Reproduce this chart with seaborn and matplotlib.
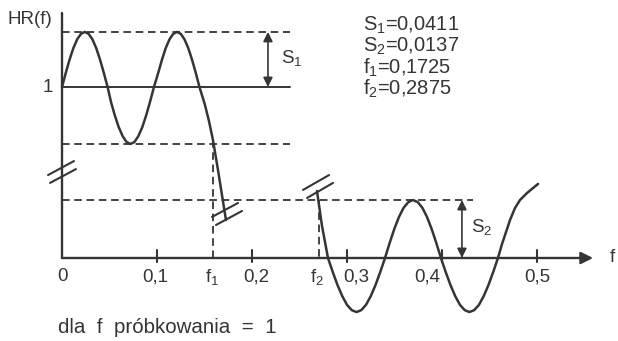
import matplotlib
matplotlib.use("Agg")
import matplotlib.pyplot as plt
import pandas as pd
import seaborn as sns

# ---------------- data (x: f, y: schematic HR(f), passband level "1" = 1.0) ----------------
pass_f = [0.000, 0.004, 0.008, 0.012, 0.016, 0.020, 0.024, 0.028, 0.032, 0.036, 0.040, 0.044, 0.048,
          0.0515, 0.0556, 0.0597, 0.0639, 0.0680, 0.0721, 0.0762, 0.0803, 0.0845, 0.0886, 0.0927, 0.0968,
          0.1013, 0.1053, 0.1092, 0.1132, 0.1171, 0.1211, 0.1250, 0.1289, 0.1329, 0.1368, 0.1408, 0.1447,
          0.1505, 0.1547, 0.1589, 0.1642, 0.1684, 0.1726]
pass_hr = [1.000, 1.083, 1.161, 1.228, 1.279, 1.311, 1.322, 1.311, 1.279, 1.228, 1.161, 1.083, 1.000,
           0.914, 0.834, 0.765, 0.712, 0.678, 0.667, 0.678, 0.712, 0.765, 0.834, 0.914, 1.000,
           1.083, 1.161, 1.228, 1.279, 1.311, 1.322, 1.311, 1.279, 1.228, 1.161, 1.083, 1.000,
           0.895, 0.801, 0.690, 0.515, 0.368, 0.222]

stop_f = [0.2684, 0.2737, 0.2800,
          0.2850, 0.2900, 0.2950, 0.3000, 0.3050, 0.3100, 0.3150, 0.3200, 0.3250, 0.3300, 0.3350, 0.3400,
          0.3449, 0.3498, 0.3547, 0.3596, 0.3646, 0.3695, 0.3744, 0.3793, 0.3842, 0.3891, 0.3940, 0.3989,
          0.4039, 0.4089, 0.4139, 0.4189, 0.4239, 0.4289, 0.4339, 0.4389, 0.4439, 0.4489, 0.4539, 0.4589,
          0.4632, 0.4674, 0.4716, 0.4768, 0.4821, 0.4895, 0.4958, 0.5011]
stop_hr = [0.392, 0.187, 0.000,
           -0.082, -0.158, -0.223, -0.274, -0.305, -0.316, -0.305, -0.274, -0.223, -0.158, -0.082, 0.000,
           0.088, 0.170, 0.240, 0.294, 0.327, 0.339, 0.327, 0.294, 0.240, 0.170, 0.088, 0.000,
           -0.082, -0.158, -0.223, -0.274, -0.305, -0.316, -0.305, -0.274, -0.223, -0.158, -0.082, 0.000,
           0.082, 0.152, 0.222, 0.292, 0.339, 0.380, 0.409, 0.433]

level_one = 1.0
ripple_top = 1.322
ripple_bottom = 0.667
stop_top = 0.339
f1_mark = 0.159
f2_mark = 0.2705

xtick_values = [0.1, 0.2, 0.3, 0.4, 0.5]
xtick_labels = ["0", "0,1", r"$\mathregular{f_1}$", "0,2", r"$\mathregular{f_2}$", "0,3", "0,4", "0,5"]
param_lines = [r"$\mathregular{S_1}$=0,0411", r"$\mathregular{S_2}$=0,0137",
               r"$\mathregular{f_1}$=0,1725", r"$\mathregular{f_2}$=0,2875"]

# ---------------- layout ----------------
xtick_label_pos = [0.0, 0.0979, 0.1579, 0.2042, 0.2684, 0.3095, 0.3842, 0.5]
guide_end = 0.24
stop_guide_end = 0.4326
x_axis_end = 0.559
y_axis_top = 1.433

INK = "#353535"
sns.set_theme(style="white")
plt.rcParams["font.family"] = ["Liberation Sans", "DejaVu Sans"]

fig = plt.figure(figsize=(6.18, 3.41), dpi=100)
ax = fig.add_axes([0, 0, 1, 1])
ax.set_xlim(-62 / 950, (618 - 62) / 950)
ax.set_ylim((258 - 341) / 171, 258 / 171)
ax.axis("off")


def seg(xs, ys, lw=1.6, ls="-"):
    df = pd.DataFrame({"x": xs, "y": ys})
    sns.lineplot(data=df, x="x", y="y", ax=ax, sort=False, estimator=None,
                 color=INK, lw=lw, linestyle=ls)


dash = (0, (4.2, 2.6))

# axes
seg([0, 0], [0, y_axis_top], lw=1.7)
ax.annotate("", xy=(x_axis_end, 0), xytext=(0, 0),
            arrowprops=dict(arrowstyle="-|>", color=INK, lw=1.7, mutation_scale=18,
                            shrinkA=0, shrinkB=0))
for xv in xtick_values:
    seg([xv, xv], [-0.023, 0.047], lw=1.5)

# guides
seg([0, guide_end], [ripple_top, ripple_top], lw=1.3, ls=dash)
seg([0, guide_end], [level_one, level_one], lw=1.4)
seg([0, guide_end], [ripple_bottom, ripple_bottom], lw=1.3, ls=dash)
seg([0, stop_guide_end], [stop_top, stop_top], lw=1.3, ls=dash)
seg([f1_mark, f1_mark], [0.69, 0], lw=1.3, ls=dash)
seg([f2_mark, f2_mark], [stop_top, 0], lw=1.3, ls=dash)

# curves
seg(pass_f, pass_hr, lw=1.8)
seg(stop_f, stop_hr, lw=1.8)

# break marks
seg([-0.0147, 0.0126], [0.485, 0.567], lw=1.5)
seg([-0.0126, 0.0147], [0.439, 0.520], lw=1.5)
seg([0.1579, 0.1853], [0.240, 0.322], lw=1.5)
seg([0.1621, 0.1895], [0.193, 0.275], lw=1.5)
seg([0.2537, 0.2811], [0.398, 0.485], lw=1.5)
seg([0.2579, 0.2853], [0.351, 0.439], lw=1.5)

# S1 / S2 arrows
ax.annotate("", xy=(0.2168, ripple_top), xytext=(0.2168, level_one),
            arrowprops=dict(arrowstyle="<|-|>", color=INK, lw=1.2, mutation_scale=14,
                            shrinkA=0, shrinkB=0))
ax.annotate("", xy=(0.421, stop_top), xytext=(0.421, 0),
            arrowprops=dict(arrowstyle="<|-|>", color=INK, lw=1.2, mutation_scale=14,
                            shrinkA=0, shrinkB=0))

fs = 13.5
ax.text(0.2305, 1.170, r"$\mathregular{S_1}$", color=INK, fontsize=fs, ha="left", va="center")
ax.text(0.4305, 0.181, r"$\mathregular{S_2}$", color=INK, fontsize=fs, ha="left", va="center")

# tick labels
for xp, lab in zip(xtick_label_pos, xtick_labels):
    ax.text(xp, -0.111, lab, color=INK, fontsize=fs, ha="center", va="center")
ax.text(0.579, 0.0, "f", color=INK, fontsize=fs, ha="center", va="center")
ax.text(-0.0095, 1.0, "1", color=INK, fontsize=fs, ha="right", va="center")
ax.text(-0.0337, 1.392, "HR(f)", color=INK, fontsize=fs, ha="center", va="center")

# parameter block
for yv, line in zip([1.363, 1.240, 1.111, 0.988], param_lines):
    ax.text(0.3168, yv, line, color=INK, fontsize=14.5, ha="left", va="center")

ax.text(-0.0042, -0.404, "dla  f  próbkowania  =  1", color=INK, fontsize=14.8,
        ha="left", va="center")

fig.savefig("out.png", dpi=100, facecolor="white")
